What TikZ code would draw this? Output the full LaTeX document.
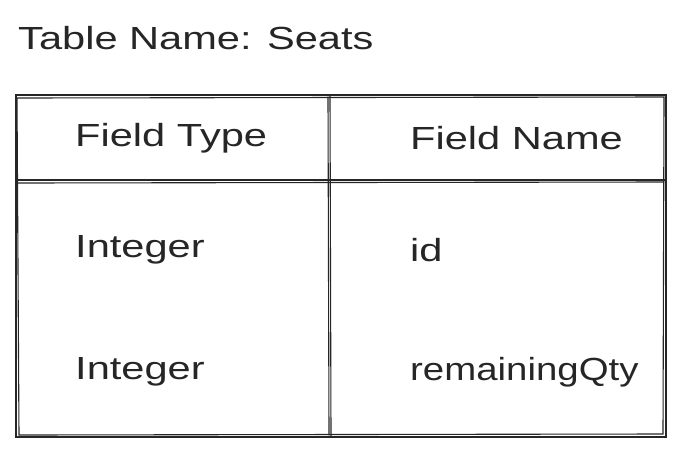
\documentclass[tikz,border=0pt]{standalone}
\usepackage{fontspec}
\usepackage{graphicx}
\setmainfont{Liberation Sans}
\newcommand{\wide}[1]{\scalebox{1.2}[1]{#1}}
\begin{document}
\begin{tikzpicture}[x=1pt,y=-1pt,
  sk/.style={draw=black!85,line width=1.1pt,line cap=round},
  lbl/.style={anchor=west,inner sep=0pt,font=\fontsize{32}{34}\selectfont,text=black!85}]
\useasboundingbox (0,0) rectangle (688,448);
\node[lbl] (title) at (18,38) {\scalebox{1.3}[1]{Table Name: Seats}};
\coordinate (tl) at (16,95); \coordinate (tr) at (666,95);
\coordinate (bl) at (16,437); \coordinate (br) at (666,437);
\draw[sk] (tl) -- (tr) -- (br) -- (bl) -- cycle;
\draw[sk] (17,98) -- (664,97) -- (663,434) -- (19,435) -- cycle;
\coordinate (mt) at (330,96); \coordinate (mb) at (331,436);
\draw[sk] (mt) -- (mb);
\draw[sk] (328,97) -- (329,435);
\coordinate (hl) at (17,180); \coordinate (hr) at (665,180);
\draw[sk] (hl) -- (hr);
\draw[sk] (18,183) -- (664,182);
\node[lbl] (h1) at (75,138) {\scalebox{1.3}[1]{Field Type}};
\node[lbl] (h2) at (410,138) {\scalebox{1.3}[1]{Field Name}};
\node[lbl] (r1a) at (75,250) {\scalebox{1.3}[1]{Integer}};
\node[lbl] (r1b) at (410,250) {\scalebox{1.3}[1]{id}};
\node[lbl] (r2a) at (75,372) {\scalebox{1.3}[1]{Integer}};
\node[lbl] (r2b) at (410,372) {\wide{remainingQty}};
\end{tikzpicture}
\end{document}
